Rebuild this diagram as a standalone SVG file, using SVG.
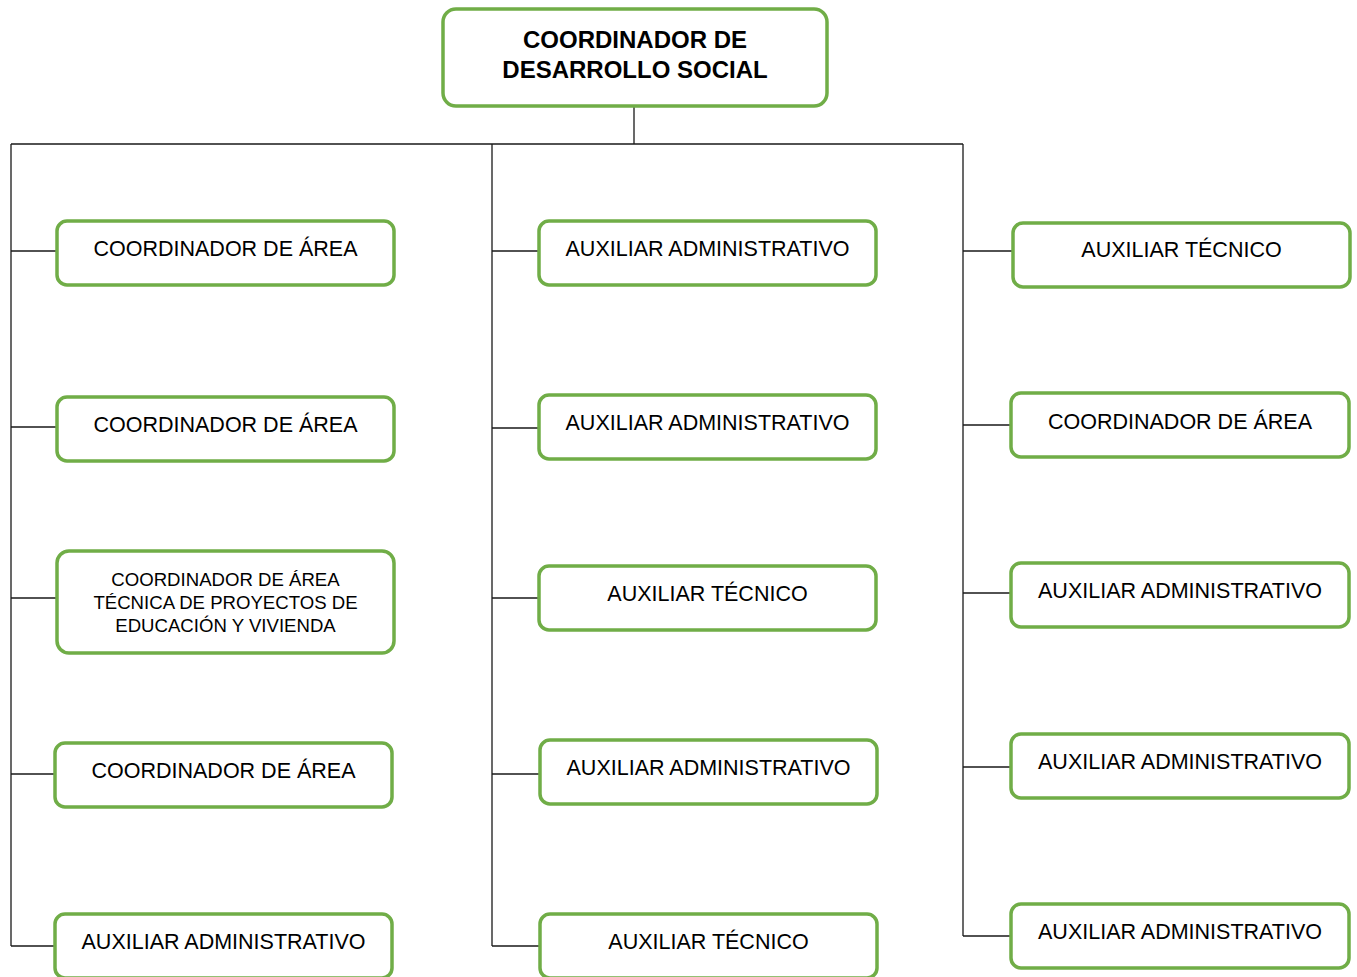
<svg xmlns="http://www.w3.org/2000/svg" width="1357" height="977" viewBox="0 0 1357 977">
<style>
.box{fill:#fff;stroke:#70AD47;stroke-width:3.5}
.t{font-family:"Liberation Sans",Arial,sans-serif;font-size:21.5px;fill:#000;text-anchor:middle}
.s{font-size:18.6px}
.b{font-weight:bold;font-size:24px}
.c{stroke:#1a1a1a;stroke-width:1.3;fill:none}
</style>
<rect width="1357" height="977" fill="#fff"/>
<g id="connectors">
<path class="c" d="M634 106V144M11 144H963M11 144V946M492 144V946M963 144V936"/>
<path class="c" d="M11 251H57M11 427H57M11 598H57M11 774H55M11 946H55"/>
<path class="c" d="M492 251H539M492 428H539M492 598H539M492 774H540M492 946H540"/>
<path class="c" d="M963 251H1013M963 425H1011M963 593H1011M963 767H1011M963 936H1011"/>
</g>
<g id="root"><rect class="box" x="443" y="9" width="384" height="97" rx="13"/><text class="t b" x="635" y="48">COORDINADOR DE</text><text class="t b" x="635" y="78">DESARROLLO SOCIAL</text></g>
<g id="l1"><rect class="box" x="57" y="221" width="337" height="64" rx="10"/><text class="t" x="225.5" y="256">COORDINADOR DE ÁREA</text></g>
<g id="l2"><rect class="box" x="57" y="397" width="337" height="64" rx="10"/><text class="t" x="225.5" y="432">COORDINADOR DE ÁREA</text></g>
<g id="l3"><rect class="box" x="57" y="551" width="337" height="102" rx="12"/><text class="t s" x="225.5" y="586">COORDINADOR DE ÁREA</text><text class="t s" x="225.5" y="609">TÉCNICA DE PROYECTOS DE</text><text class="t s" x="225.5" y="632">EDUCACIÓN Y VIVIENDA</text></g>
<g id="l4"><rect class="box" x="55" y="743" width="337" height="64" rx="10"/><text class="t" x="223.5" y="778">COORDINADOR DE ÁREA</text></g>
<g id="l5"><rect class="box" x="55" y="914" width="337" height="64" rx="10"/><text class="t" x="223.5" y="949">AUXILIAR ADMINISTRATIVO</text></g>
<g id="m1"><rect class="box" x="539" y="221" width="337" height="64" rx="10"/><text class="t" x="707.5" y="256">AUXILIAR ADMINISTRATIVO</text></g>
<g id="m2"><rect class="box" x="539" y="395" width="337" height="64" rx="10"/><text class="t" x="707.5" y="430">AUXILIAR ADMINISTRATIVO</text></g>
<g id="m3"><rect class="box" x="539" y="566" width="337" height="64" rx="10"/><text class="t" x="707.5" y="601">AUXILIAR TÉCNICO</text></g>
<g id="m4"><rect class="box" x="540" y="740" width="337" height="64" rx="10"/><text class="t" x="708.5" y="775">AUXILIAR ADMINISTRATIVO</text></g>
<g id="m5"><rect class="box" x="540" y="914" width="337" height="64" rx="10"/><text class="t" x="708.5" y="949">AUXILIAR TÉCNICO</text></g>
<g id="r1"><rect class="box" x="1013" y="223" width="337" height="64" rx="10"/><text class="t" x="1181.5" y="257">AUXILIAR TÉCNICO</text></g>
<g id="r2"><rect class="box" x="1011" y="393" width="338" height="64" rx="10"/><text class="t" x="1180" y="429">COORDINADOR DE ÁREA</text></g>
<g id="r3"><rect class="box" x="1011" y="563" width="338" height="64" rx="10"/><text class="t" x="1180" y="598">AUXILIAR ADMINISTRATIVO</text></g>
<g id="r4"><rect class="box" x="1011" y="734" width="338" height="64" rx="10"/><text class="t" x="1180" y="769">AUXILIAR ADMINISTRATIVO</text></g>
<g id="r5"><rect class="box" x="1011" y="904" width="338" height="64" rx="10"/><text class="t" x="1180" y="939">AUXILIAR ADMINISTRATIVO</text></g>
</svg>
